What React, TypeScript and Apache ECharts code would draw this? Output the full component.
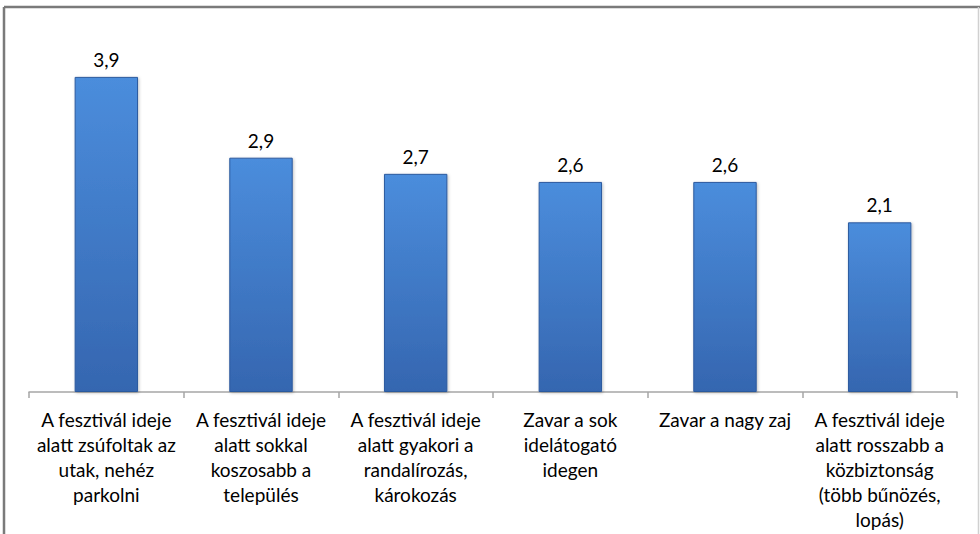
import React, { useEffect, useRef } from "react";
import * as echarts from "echarts";

const categories: string[] = [
  "A fesztivál ideje\nalatt zsúfoltak az\nutak, nehéz\nparkolni",
  "A fesztivál ideje\nalatt sokkal\nkoszosabb a\ntelepülés",
  "A fesztivál ideje\nalatt gyakori a\nrandalírozás,\nkárokozás",
  "Zavar a sok\nidelátogató\nidegen",
  "Zavar a nagy zaj",
  "A fesztivál ideje\nalatt rosszabb a\nközbiztonság\n(több bűnözés,\nlopás)",
];
const values: number[] = [3.9, 2.9, 2.7, 2.6, 2.6, 2.1];

export default function App() {
  const ref = useRef<HTMLDivElement>(null);
  useEffect(() => {
    if (!ref.current) return;
    const chart = echarts.init(ref.current, null, { renderer: "svg" });
    const font = "Lato, 'Open Sans', sans-serif";
    chart.setOption({
      animation: false,
      backgroundColor: "#ffffff",
      grid: { left: 29, right: 23, top: 28.4, bottom: 142, containLabel: false },
      xAxis: {
        type: "category",
        data: categories,
        axisLine: { lineStyle: { color: "#a6a6a6", width: 1.5 } },
        axisTick: { show: true, length: 6, lineStyle: { color: "#a6a6a6", width: 1.5 } },
        axisLabel: {
          interval: 0,
          color: "#000000",
          fontFamily: font,
          fontSize: 19,
          lineHeight: 25,
          margin: 15,
          align: "center",
        },
      },
      yAxis: {
        type: "value",
        min: 0,
        max: 4.5,
        show: false,
        splitLine: { show: false },
      },
      series: [
        {
          type: "bar",
          data: values,
          barWidth: "41%",
          itemStyle: {
            color: new echarts.graphic.LinearGradient(0, 0, 0, 1, [
              { offset: 0, color: "#4b8ddc" },
              { offset: 1, color: "#3566b0" },
            ]),
            borderColor: "#2c5a9e",
            borderWidth: 1,
            shadowColor: "rgba(0,0,0,0.25)",
            shadowBlur: 3,
            shadowOffsetX: 1,
            shadowOffsetY: 1,
          },
          label: {
            show: true,
            position: "top",
            distance: 8,
            color: "#000000",
            fontFamily: font,
            fontSize: 19,
            formatter: (p: any) => String(p.value).replace(".", ","),
          },
        },
      ],
      graphic: [
        { type: "line", shape: { x1: 4, y1: 7, x2: 980, y2: 7 }, style: { stroke: "#7a7a7a", lineWidth: 2.5 } },
        { type: "line", shape: { x1: 4, y1: 7, x2: 4, y2: 534 }, style: { stroke: "#7a7a7a", lineWidth: 2.5 } },
        { type: "line", shape: { x1: 978.5, y1: 7, x2: 978.5, y2: 534 }, style: { stroke: "#d0d0d0", lineWidth: 1.5 } },
      ],
    });
    return () => chart.dispose();
  }, []);
  return (
    <div
      ref={ref}
      style={{ position: "fixed", left: 0, top: 0, width: 980, height: 534 }}
    />
  );
}
